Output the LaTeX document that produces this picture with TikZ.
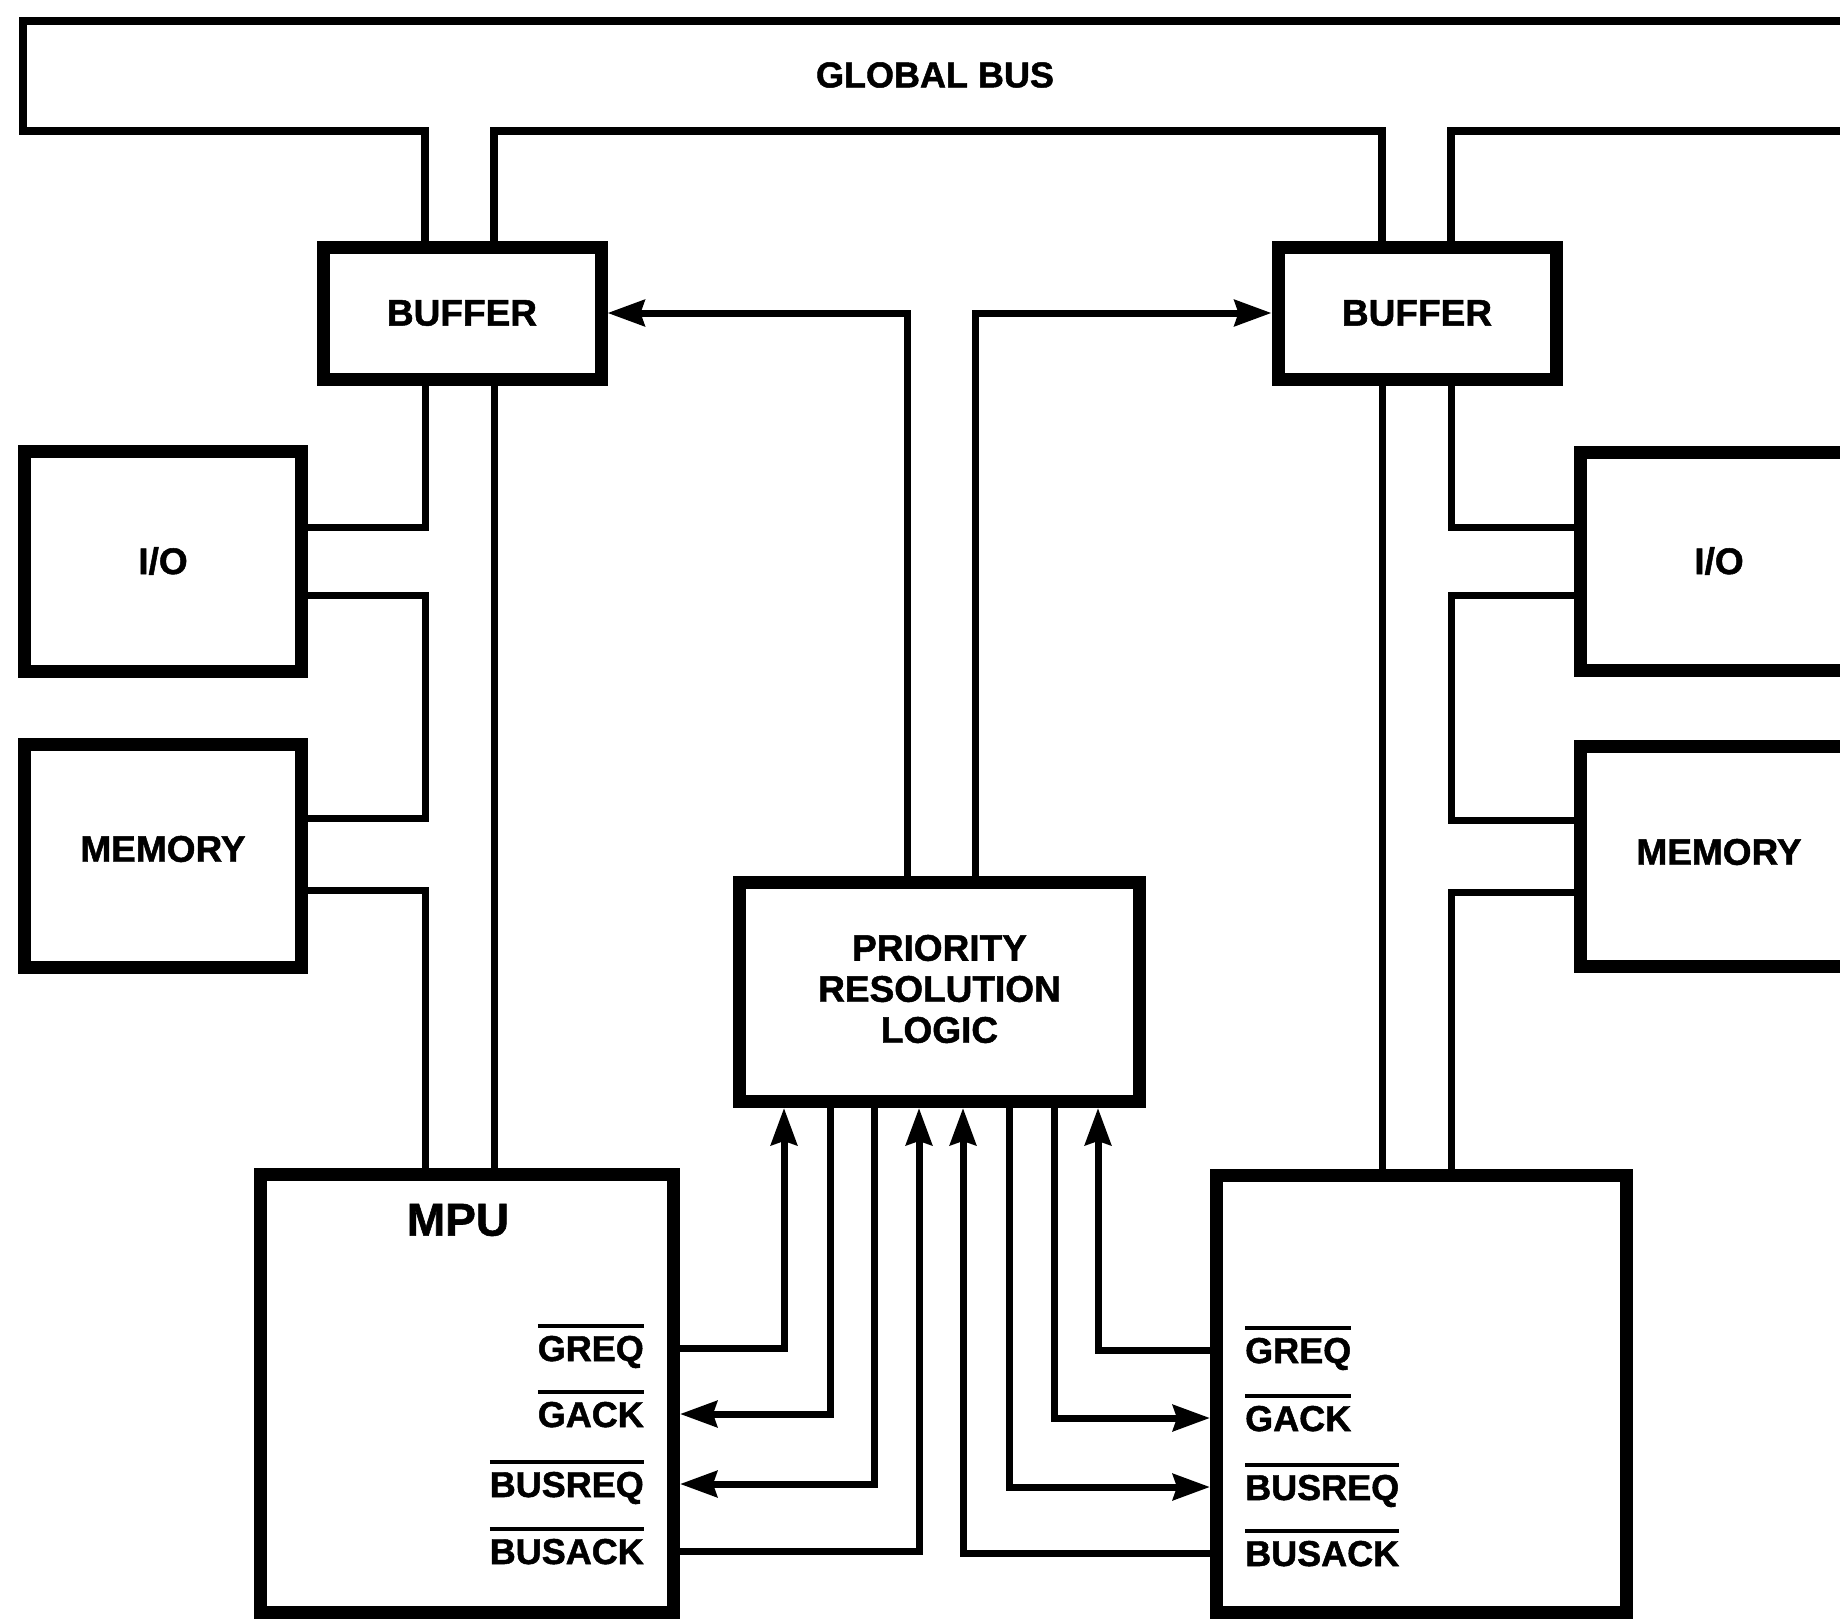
\documentclass[tikz,border=0pt]{standalone}
\usepackage{fontspec}
\setmainfont{Liberation Sans}[BoldFeatures={FakeBold=1.3}]
\usetikzlibrary{arrows.meta}
\newcommand\ovbar[1]{\vbox{\hrule height 4pt\kern 8pt\hbox{#1}}}
\newcommand\upby[2]{\raisebox{#1}[\height][\depth]{#2}}
\begin{document}
\begin{tikzpicture}[x=1pt,y=-1pt,
  blk/.style={draw, line width=13pt, inner sep=0pt, align=center,
    font=\fontsize{37}{41}\selectfont\bfseries},
  wire/.style={line width=7pt},
  bus/.style={line width=8pt},
  sig/.style={line width=7pt, -{Stealth[length=37pt,width=26pt,inset=4pt]}},
  lbl/.style={inner sep=0pt, font=\fontsize{36}{40}\selectfont\bfseries},
]
\useasboundingbox (0,0) rectangle (1840,1620);
\fill[white] (0,0) rectangle (1840,1620);
\clip (0,0) rectangle (1840,1620);

% blocks
\node[blk, minimum width=278pt, minimum height=132pt] (bufL) at (462,313) {BUFFER};
\node[blk, minimum width=278pt, minimum height=132pt] (bufR) at (1417,313) {BUFFER};
\node[blk, minimum width=277pt, minimum height=220pt] (ioL) at (163,561) {I/O};
\node[blk, minimum width=277pt, minimum height=223pt] (memL) at (163,856) {\upby{7pt}{MEMORY}};
\node[blk, minimum width=277pt, minimum height=218pt] (ioR) at (1719,561) {I/O};
\node[blk, minimum width=277pt, minimum height=220pt] (memR) at (1719,856) {\upby{4pt}{MEMORY}};
\node[blk, minimum width=400pt, minimum height=219pt] (pri) at (939.5,992)
  {\upby{3pt}{PRIORITY}\\\upby{3pt}{RESOLUTION}\\\upby{3pt}{LOGIC}};
\node[blk, minimum width=413pt, minimum height=438pt] (mpuL) at (467,1393.5) {};
\node[blk, minimum width=410pt, minimum height=437pt] (mpuR) at (1421.5,1394) {};
\node[inner sep=0pt, font=\fontsize{46}{50}\selectfont\bfseries] (mpuT) at (458,1220) {MPU};
\node[inner sep=0pt, font=\fontsize{36}{40}\selectfont\bfseries] (gbT) at (935,75) {GLOBAL BUS};

% global bus outline
\draw[bus] (1850,21) -- (23,21) -- (23,131) -- (425,131) -- (bufL.north -| 425,0);
\draw[bus] (bufL.north -| 494,0) -- (494,131) -- (1382,131) -- (bufR.north -| 1382,0);
\draw[bus] (bufR.north -| 1451,0) -- (1451,131) -- (1850,131);

% local buses, left
\draw[wire] (bufL.south -| 425,0) |- (ioL.east |- 0,527);
\draw[wire] (ioL.east |- 0,595) -- (425,595) -- (425,818) -- (memL.east |- 0,818);
\draw[wire] (memL.east |- 0,890) -| (mpuL.north -| 425,0);
\draw[wire] (bufL.south -| 494,0) -- (mpuL.north -| 494,0);
% local buses, right
\draw[wire] (bufR.south -| 1382,0) -- (mpuR.north -| 1382,0);
\draw[wire] (bufR.south -| 1451,0) |- (ioR.west |- 0,527);
\draw[wire] (ioR.west |- 0,595) -- (1451,595) -- (1451,820) -- (memR.west |- 0,820);
\draw[wire] (memR.west |- 0,892) -| (mpuR.north -| 1451,0);

% priority logic to buffers
\draw[sig] (pri.north -| 907,0) |- (bufL.east);
\draw[sig] (pri.north -| 975,0) |- (bufR.west);

% signal labels
\node[lbl, anchor=base east] (lgreq) at (644,1361) {\ovbar{GREQ}};
\node[lbl, anchor=base east] (lgack) at (644,1427) {\ovbar{GACK}};
\node[lbl, anchor=base east] (lbusreq) at (644,1497) {\ovbar{BUSREQ}};
\node[lbl, anchor=base east] (lbusack) at (644,1564) {\ovbar{BUSACK}};
\node[lbl, anchor=base west] (rgreq) at (1245,1363) {\ovbar{GREQ}};
\node[lbl, anchor=base west] (rgack) at (1245,1431) {\ovbar{GACK}};
\node[lbl, anchor=base west] (rbusreq) at (1245,1500) {\ovbar{BUSREQ}};
\node[lbl, anchor=base west] (rbusack) at (1245,1566) {\ovbar{BUSACK}};

% signals, left MPU
\draw[sig] (mpuL.east |- 0,1348) -| (pri.south -| 784,0);
\draw[sig] (pri.south -| 830,0) |- (mpuL.east |- 0,1414);
\draw[sig] (pri.south -| 874,0) |- (mpuL.east |- 0,1484);
\draw[sig] (mpuL.east |- 0,1551) -| (pri.south -| 919,0);
% signals, right MPU
\draw[sig] (mpuR.west |- 0,1553) -| (pri.south -| 963,0);
\draw[sig] (pri.south -| 1009,0) |- (mpuR.west |- 0,1487);
\draw[sig] (pri.south -| 1054,0) |- (mpuR.west |- 0,1418);
\draw[sig] (mpuR.west |- 0,1350) -| (pri.south -| 1098,0);
\end{tikzpicture}
\end{document}
